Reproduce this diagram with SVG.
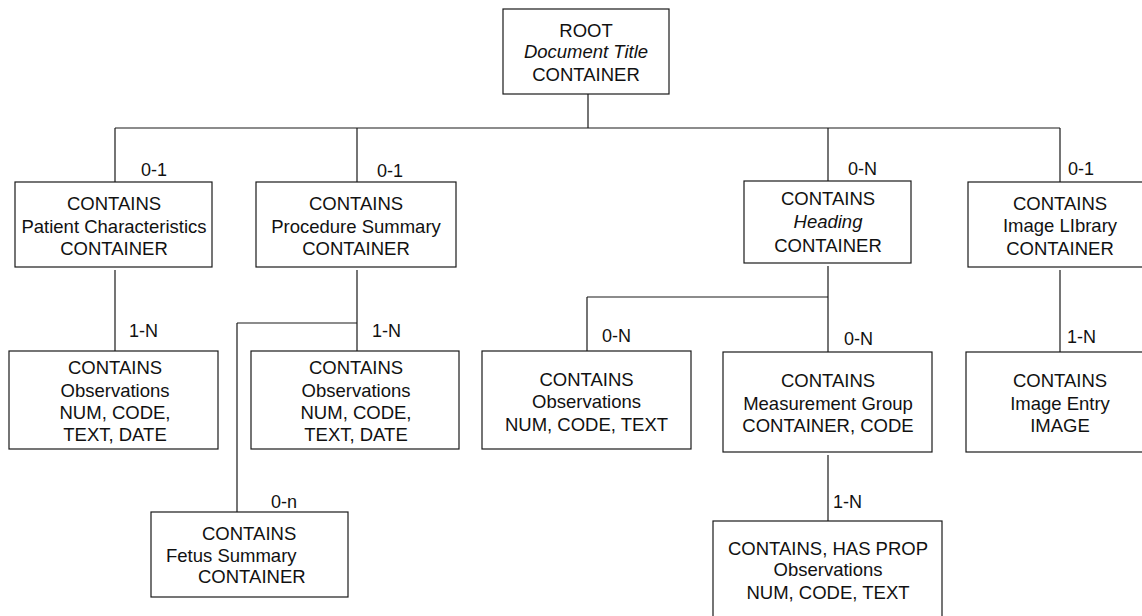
<svg xmlns="http://www.w3.org/2000/svg" width="1142" height="616" viewBox="0 0 1142 616">
<style>
.box{fill:#fff;stroke:#1a1a1a;stroke-width:1.2}
.t{font-family:"Liberation Sans",Arial,sans-serif;font-size:18.5px;fill:#111;text-anchor:middle}
.s{text-anchor:start}
.i{font-style:italic}
.lbl{font-family:"Liberation Sans",Arial,sans-serif;font-size:18px;fill:#111}
.c{fill:none;stroke:#1a1a1a;stroke-width:1.2}
</style>
<rect width="1142" height="616" fill="#fff"/>
<g id="connectors">
<path class="c" d="M588 94V128M115 128H1060M115 128V182M357 128V182M828 128V181M1060 128V182"/>
<path class="c" d="M115 270V351"/>
<path class="c" d="M357 270V351M237 323H357M237 323V512"/>
<path class="c" d="M828 266V352M587 297H828M587 297V351"/>
<path class="c" d="M1060 270V352"/>
<path class="c" d="M828 455V521"/>
<text class="lbl" x="141" y="176">0-1</text>
<text class="lbl" x="377" y="177">0-1</text>
<text class="lbl" x="848" y="175">0-N</text>
<text class="lbl" x="1068" y="175">0-1</text>
<text class="lbl" x="129" y="337">1-N</text>
<text class="lbl" x="372" y="337">1-N</text>
<text class="lbl" x="602" y="342">0-N</text>
<text class="lbl" x="844" y="345">0-N</text>
<text class="lbl" x="1067" y="343">1-N</text>
<text class="lbl" x="271" y="508">0-n</text>
<text class="lbl" x="833" y="508">1-N</text>
</g>
<g id="root">
<rect class="box" x="503" y="9" width="166" height="85"/>
<text class="t" x="586" y="37">ROOT</text>
<text class="t i" x="586" y="58">Document Title</text>
<text class="t" x="586" y="81">CONTAINER</text>
</g>
<g id="patient">
<rect class="box" x="15" y="182" width="197" height="85"/>
<text class="t" x="114" y="210">CONTAINS</text>
<text class="t" x="114" y="232.5">Patient Characteristics</text>
<text class="t" x="114" y="255">CONTAINER</text>
</g>
<g id="procedure">
<rect class="box" x="256" y="182" width="200" height="85"/>
<text class="t" x="356" y="210">CONTAINS</text>
<text class="t" x="356" y="232.5">Procedure Summary</text>
<text class="t" x="356" y="255">CONTAINER</text>
</g>
<g id="heading">
<rect class="box" x="744" y="181" width="167" height="82"/>
<text class="t" x="828" y="205">CONTAINS</text>
<text class="t i" x="828" y="227.5">Heading</text>
<text class="t" x="828" y="251.5">CONTAINER</text>
</g>
<g id="imagelibrary">
<rect class="box" x="968" y="182" width="186" height="85"/>
<text class="t" x="1060" y="210">CONTAINS</text>
<text class="t" x="1060" y="232">Image LIbrary</text>
<text class="t" x="1060" y="255">CONTAINER</text>
</g>
<g id="obs1">
<rect class="box" x="9" y="351" width="209" height="98"/>
<text class="t" x="115" y="374">CONTAINS</text>
<text class="t" x="115" y="396.5">Observations</text>
<text class="t" x="115" y="419">NUM, CODE,</text>
<text class="t" x="115" y="441">TEXT, DATE</text>
</g>
<g id="obs2">
<rect class="box" x="251" y="351" width="208" height="98"/>
<text class="t" x="356" y="374">CONTAINS</text>
<text class="t" x="356" y="396.5">Observations</text>
<text class="t" x="356" y="419">NUM, CODE,</text>
<text class="t" x="356" y="441">TEXT, DATE</text>
</g>
<g id="obs3">
<rect class="box" x="482" y="351" width="209" height="98"/>
<text class="t" x="586.5" y="386">CONTAINS</text>
<text class="t" x="586.5" y="408">Observations</text>
<text class="t" x="586.5" y="431">NUM, CODE, TEXT</text>
</g>
<g id="measurement">
<rect class="box" x="723" y="352" width="209" height="100"/>
<text class="t" x="828" y="387">CONTAINS</text>
<text class="t" x="828" y="409.5">Measurement Group</text>
<text class="t" x="828" y="432">CONTAINER, CODE</text>
</g>
<g id="imageentry">
<rect class="box" x="966" y="352" width="188" height="100"/>
<text class="t" x="1060" y="387">CONTAINS</text>
<text class="t" x="1060" y="410">Image Entry</text>
<text class="t" x="1060" y="432">IMAGE</text>
</g>
<g id="fetus">
<rect class="box" x="151" y="512" width="197" height="85"/>
<text class="t s" x="202" y="540">CONTAINS</text>
<text class="t s" x="166" y="561.5">Fetus Summary</text>
<text class="t s" x="198" y="583">CONTAINER</text>
</g>
<g id="leaf">
<rect class="box" x="713" y="521" width="229" height="100"/>
<text class="t" x="828" y="554.5">CONTAINS, HAS PROP</text>
<text class="t" x="828" y="576">Observations</text>
<text class="t" x="828" y="599">NUM, CODE, TEXT</text>
</g>
</svg>
